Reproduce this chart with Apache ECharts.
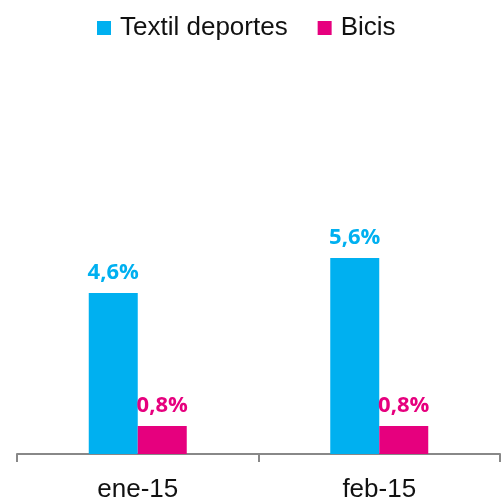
<!DOCTYPE html>
<html><head><meta charset="utf-8">
<script src="https://cdn.jsdelivr.net/npm/echarts@6/dist/echarts.min.js"></script>
<style>html,body{margin:0;padding:0;background:#fff}#c{width:501px;height:503px}</style>
</head><body><div id="c"></div>
<script>
var categories = ['ene-15', 'feb-15'];
var textil = [4.6, 5.6];
var bicis = [0.8, 0.8];
var seriesNames = ['Textil deportes', 'Bicis'];

var chart = echarts.init(document.getElementById('c'));
function lbl(color) {
  return {
    show: true, position: 'top', distance: 9,
    color: color, fontFamily: 'Open Sans', fontWeight: 'bold', fontSize: 22,
    formatter: function (p) { return p.value.toFixed(1).replace('.', ',') + '%'; }
  };
}
chart.setOption({
  animation: false,
  legend: {
    top: 10, left: 92, itemWidth: 14, itemHeight: 14, itemGap: 30,
    icon: 'rect',
    textStyle: { fontFamily: 'Liberation Sans', fontSize: 26, color: '#111', padding: [0, 0, 0, 4] },
    data: seriesNames
  },
  grid: { left: 17, right: 1, top: 174, bottom: 46, containLabel: false },
  xAxis: {
    type: 'category', data: categories,
    axisLine: { lineStyle: { color: '#888', width: 2 } },
    axisTick: { show: true, length: 8, lineStyle: { color: '#888', width: 2 } },
    axisLabel: { fontFamily: 'Liberation Sans', fontSize: 26, color: '#111', margin: 23 }
  },
  yAxis: { type: 'value', min: 0, max: 8, show: false, splitLine: { show: false } },
  series: [
    { name: seriesNames[0], type: 'bar', data: textil, barWidth: 49, barGap: '0%',
      itemStyle: { color: '#00B0F0' }, label: lbl('#00B0F0') },
    { name: seriesNames[1], type: 'bar', data: bicis, barWidth: 49, barGap: '0%',
      itemStyle: { color: '#E6007E' }, label: lbl('#E6007E') }
  ]
});
</script></body></html>
